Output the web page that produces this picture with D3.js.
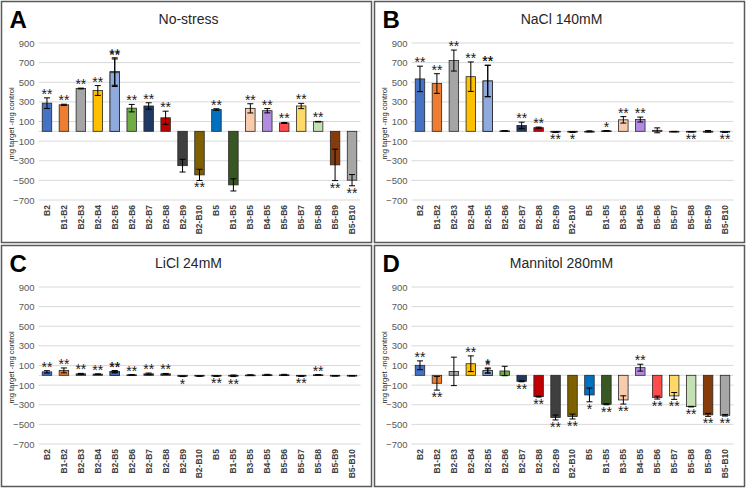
<!DOCTYPE html>
<html>
<head>
<meta charset="utf-8">
<script src="https://cdn.jsdelivr.net/npm/d3@7"></script>
<style>
  html, body { margin: 0; padding: 0; background: #ffffff; }
  svg { display: block; }
</style>
</head>
<body>
<svg id="chart" width="747" height="488"></svg>
<script>
// ---------------- DATA ----------------
const categories = ["B2","B1-B2","B2-B3","B2-B4","B2-B5","B2-B6","B2-B7","B2-B8","B2-B9","B2-B10",
                    "B5","B1-B5","B2-B5","B3-B5","B4-B5","B5-B6","B5-B7","B5-B8","B5-B9","B5-B10"];

const yTicks = [900, 700, 500, 300, 100, -100, -300, -500, -700];

const panelTitles  = ["No-stress", "NaCl 140mM", "LiCl 24mM", "Mannitol 280mM"];
const panelLetters = ["A", "B", "C", "D"];

// No-stress
const noStressMean = [287, 270, 436, 416, 609, 236, 258, 138, -350, -444,
                      222, -546, 597, 234, 210, 85, 258, 98, -342, -498];
const noStressErr  = [54, 6, 4, 50, 140, 38, 33, 67, 65, 57,
                      8, 62, 140, 47, 22, 5, 27, 3, 160, 57];
const noStressSig  = ["**","**","**","**","**","**","**","**","","**",
                      "**","","**","**","**","**","**","**","**","**"];

// NaCl 140mM
const naclMean = [534, 487, 721, 557, 513, 5, 60, 37, -8, -8,
                  0, 5, 513, 117, 120, 10, -3, -5, 0, -8];
const naclErr  = [130, 100, 107, 150, 160, 2, 33, 6, 3, 3,
                  5, 3, 160, 33, 25, 25, 2, 2, 8, 3];
const naclSig  = ["**","**","**","**","**","","**","**","**","*",
                  "","*","**","**","**","","","**","","**"];

// LiCl 24mM
const liclMean = [35, 50, 15, 12, 38, 5, 15, 15, -10, -8,
                  -8, -5, 35, 3, 5, 5, -8, 5, -5, -5];
const liclErr  = [12, 25, 5, 3, 10, 2, 8, 4, 3, 2,
                  2, 8, 10, 2, 5, 5, 2, 2, 3, 2];
const liclSig  = ["**","**","**","**","**","**","**","**","*","",
                  "**","**","**","","","","**","**","",""];

// Mannitol 280mM
const mannMean = [102, -81, 40, 118, 44, 44, -61, -217, -430, -420,
                  -200, -295, 50, -251, 78, -227, -210, -319, -403, -407];
const mannErr  = [45, 70, 145, 80, 22, 48, 5, 5, 25, 25,
                  70, 5, 25, 42, 35, 15, 35, 3, 15, 8];
const mannSig  = ["**","**","","**","*","","**","**","**","**",
                  "*","**","*","**","**","**","**","**","**","**"];

const barColors = ["#4472C4","#ED7D31","#A5A5A5","#FFC000","#5B9BD5","#70AD47","#203864","#C00000","#3F3F3F","#7F6000",
                   "#0070C0","#385723","#8FAADC","#F8CBAD","#B18CE0","#FF4B4B","#FFD966","#C5E0B4","#843C0C","#A6A6A6"];
const barColorsLiCl = ["#4472C4","#ED7D31","#404040","#404040","#70AD47","#404040","#404040","#404040","#404040","#404040",
                       "#404040","#404040","#4472C4","#404040","#404040","#404040","#404040","#404040","#404040","#404040"];

// ---------------- LAYOUT ----------------
const panels = [
  { x: 1.5,   y: 1.5,   mean: noStressMean, err: noStressErr, sig: noStressSig, colors: barColors },
  { x: 374.5, y: 1.5,   mean: naclMean,     err: naclErr,     sig: naclSig,     colors: barColors },
  { x: 1.5,   y: 245.5, mean: liclMean,     err: liclErr,     sig: liclSig,     colors: barColorsLiCl },
  { x: 374.5, y: 245.5, mean: mannMean,     err: mannErr,     sig: mannSig,     colors: barColors }
];
const PW = 370, PH = 241;
const plotL = 37, plotR = 359, plotT = 41.5, plotB = 198.5;
const FONT = "'Liberation Sans', Arial, 'DejaVu Sans', sans-serif";

const svg = d3.select("#chart");

const x = d3.scaleBand().domain(categories).range([plotL, plotR]).paddingInner(0.44).paddingOuter(0.22);
const y = d3.scaleLinear().domain([-700, 900]).range([plotB, plotT]);

panels.forEach((p, pi) => {
  const g = svg.append("g").attr("transform", `translate(${p.x},${p.y})`);

  g.append("rect").attr("x", 0).attr("y", 0).attr("width", PW).attr("height", PH)
    .attr("fill", "#fff").attr("stroke", "#5a5a5a").attr("stroke-width", 1.5);

  // gridlines
  g.append("g").selectAll("line").data(yTicks).join("line")
    .attr("x1", plotL).attr("x2", plotR)
    .attr("y1", d => y(d)).attr("y2", d => y(d))
    .attr("stroke", "#d9d9d9").attr("stroke-width", 1);
  // zero line
  g.append("line").attr("x1", plotL).attr("x2", plotR)
    .attr("y1", y(0)).attr("y2", y(0)).attr("stroke", "#d9d9d9").attr("stroke-width", 1);

  // y axis labels
  const yAxis = d3.axisLeft(y).tickValues(yTicks).tickSize(0).tickPadding(4);
  const ya = g.append("g").attr("transform", `translate(${plotL},0)`).call(yAxis);
  ya.select(".domain").remove();
  ya.selectAll("text").attr("font-family", FONT).attr("font-size", 9.5).attr("fill", "#595959");

  // x axis labels
  const xAxis = d3.axisBottom(x).tickSize(0).tickPadding(0);
  const xa = g.append("g").attr("transform", `translate(0,${plotB})`).call(xAxis);
  xa.select(".domain").remove();
  xa.selectAll("text")
    .attr("font-family", FONT).attr("font-size", 8.5).attr("font-weight", "bold").attr("fill", "#404040")
    .attr("text-anchor", "end").attr("transform", "rotate(-90)")
    .attr("x", -5).attr("y", 0).attr("dy", "0.35em");

  // y title
  g.append("text")
    .attr("transform", `translate(9.5,${(plotT + plotB) / 2 + 2}) rotate(-90)`)
    .attr("text-anchor", "middle").attr("dy", "0.35em")
    .attr("font-family", FONT).attr("font-size", 7.6).attr("fill", "#262626")
    .text("mg target -mg control");

  // title
  g.append("text").attr("x", 187).attr("y", 22).attr("text-anchor", "middle")
    .attr("font-family", FONT).attr("font-size", 14).attr("fill", "#262626")
    .text(panelTitles[pi]);

  // panel letter
  g.append("text").attr("x", 8).attr("y", 26)
    .attr("font-family", FONT).attr("font-size", 24).attr("font-weight", "bold").attr("fill", "#000")
    .text(panelLetters[pi]);

  const rows = categories.map((c, i) => ({ c, v: p.mean[i], e: p.err[i], s: p.sig[i], col: p.colors[i] }));

  // bars
  g.append("g").selectAll("rect").data(rows).join("rect")
    .attr("x", d => x(d.c)).attr("width", x.bandwidth())
    .attr("y", d => y(Math.max(0, d.v)))
    .attr("height", d => Math.max(0.8, Math.abs(y(d.v) - y(0))))
    .attr("fill", d => d.col).attr("stroke", "#262626").attr("stroke-width", 0.8);

  // error bars
  const eb = g.append("g").attr("stroke", "#000").attr("stroke-width", 1);
  rows.forEach(d => {
    const cx = x(d.c) + x.bandwidth() / 2;
    const y1 = y(d.v + d.e), y2 = y(d.v - d.e);
    eb.append("line").attr("x1", cx).attr("x2", cx).attr("y1", y1).attr("y2", y2);
    eb.append("line").attr("x1", cx - 3).attr("x2", cx + 3).attr("y1", y1).attr("y2", y1);
    eb.append("line").attr("x1", cx - 3).attr("x2", cx + 3).attr("y1", y2).attr("y2", y2);
  });

  // significance stars
  g.append("g").selectAll("text").data(rows.filter(d => d.s)).join("text")
    .attr("x", d => x(d.c) + x.bandwidth() / 2)
    .attr("y", d => d.v >= 0 ? y(d.v + d.e) + 1 : y(d.v - d.e) + 12)
    .attr("text-anchor", "middle")
    .attr("font-family", FONT).attr("font-size", 14).attr("fill", "#1a1a1a")
    .text(d => d.s);
});
</script>
</body>
</html>
